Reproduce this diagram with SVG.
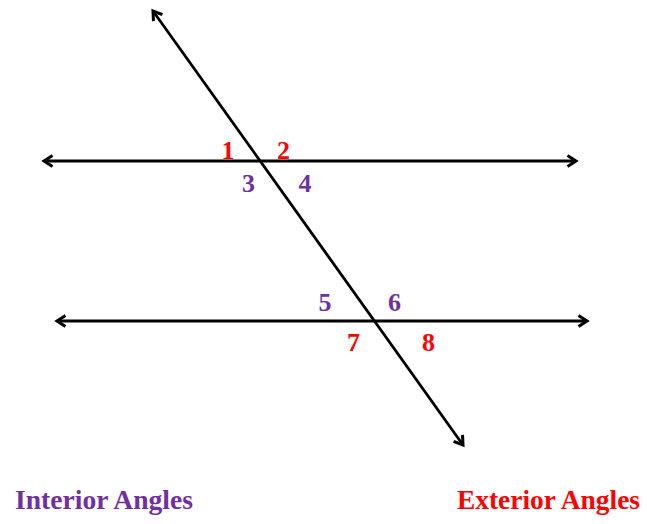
<svg xmlns="http://www.w3.org/2000/svg" width="647" height="524" viewBox="0 0 647 524">
<defs>
<marker id="arr" viewBox="0 0 14 14" refX="11" refY="7" markerWidth="14" markerHeight="14" markerUnits="userSpaceOnUse" orient="auto-start-reverse">
<path d="M2.5,1.5 L11,7 L2.5,12.5" fill="none" stroke="#000" stroke-width="3"/>
</marker>
</defs>
<style>
.ln{stroke:#000;stroke-width:2.8;fill:none;marker-start:url(#arr);marker-end:url(#arr)}
.num{font-family:"Liberation Serif","Times New Roman",serif;font-weight:bold;font-size:26px;text-anchor:middle}
.cap{font-family:"Liberation Serif","Times New Roman",serif;font-weight:bold;font-size:27px}
.red{fill:#FF0000}
.pur{fill:#7030A0}
</style>
<rect width="647" height="524" fill="#fff"/>
<g id="connectors">
<line class="ln" x1="44" y1="161" x2="576" y2="161"/>
<line class="ln" x1="57" y1="321" x2="587" y2="321"/>
<line class="ln" x1="153" y1="11" x2="463" y2="445"/>
</g>
<g id="angle1"><text class="num red" x="228" y="159">1</text></g>
<g id="angle2"><text class="num red" x="283.5" y="159">2</text></g>
<g id="angle3"><text class="num pur" x="248.5" y="192">3</text></g>
<g id="angle4"><text class="num pur" x="305" y="192">4</text></g>
<g id="angle5"><text class="num pur" x="325" y="311">5</text></g>
<g id="angle6"><text class="num pur" x="394.5" y="311">6</text></g>
<g id="angle7"><text class="num red" x="353.5" y="351">7</text></g>
<g id="angle8"><text class="num red" x="428.5" y="351">8</text></g>
<g id="interior-label"><text class="cap pur" x="15" y="509" textLength="178" lengthAdjust="spacingAndGlyphs">Interior Angles</text></g>
<g id="exterior-label"><text class="cap red" x="457" y="509" textLength="183" lengthAdjust="spacingAndGlyphs">Exterior Angles</text></g>
</svg>
